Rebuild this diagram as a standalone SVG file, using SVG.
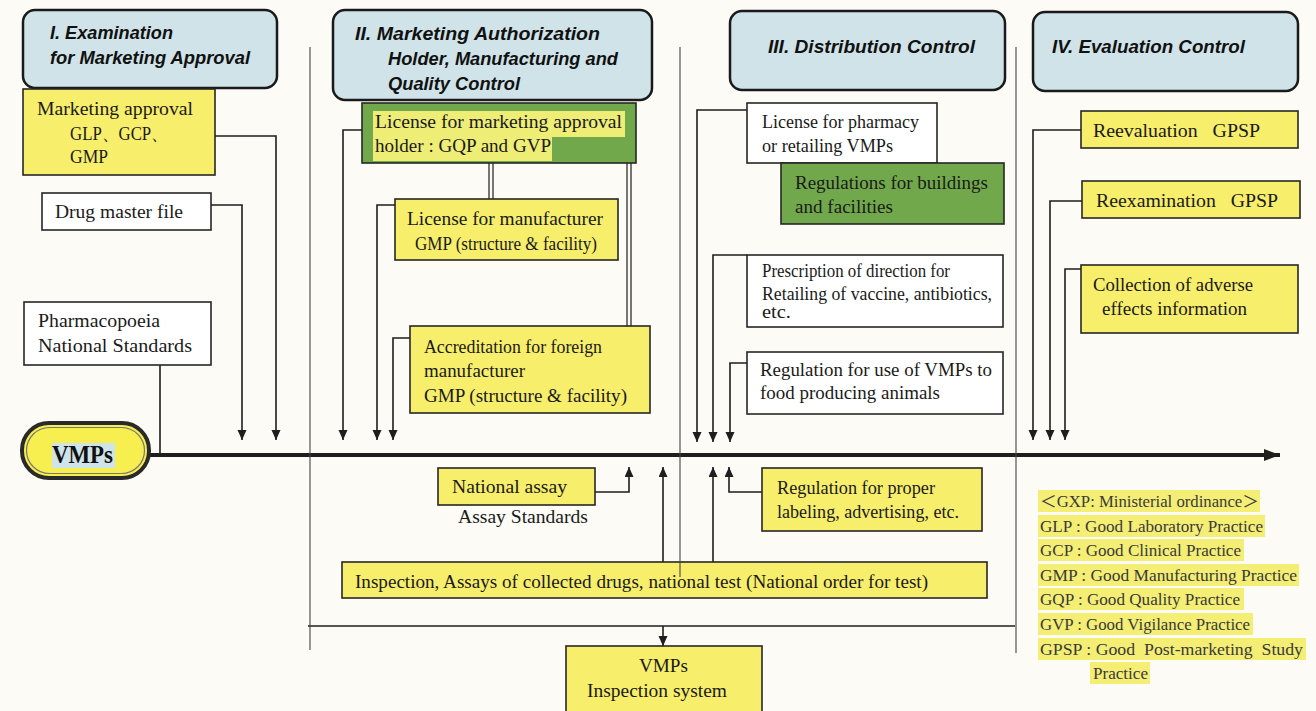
<svg xmlns="http://www.w3.org/2000/svg" width="1316" height="711" viewBox="0 0 1316 711">
  <style>
    .hdr { fill: #cfe3e8; stroke: #1a1a1a; stroke-width: 2.5; }
    .htxt { font-family: "Liberation Sans", Arial, sans-serif; font-weight: bold; font-style: italic; font-size: 18px; fill: #111; }
    .yel { fill: #f7ee6b; stroke: #262626; stroke-width: 1.6; }
    .grn { fill: #71a84b; stroke: #262626; stroke-width: 1.6; }
    .wht { fill: #ffffff; stroke: #262626; stroke-width: 1.6; }
    .t { font-family: "Liberation Serif", "Times New Roman", serif; font-size: 18px; fill: #1a1a1a; white-space: pre; }
    .lg { font-family: "Liberation Serif", "Times New Roman", "Noto Sans CJK JP", serif; font-size: 16px; fill: #3a3a3a; white-space: pre; }
    .hl { fill: #f4ee74; }
    .hlg { fill: #eeed76; }
    .ln { fill: none; stroke: #1e1e1e; stroke-width: 1.6; }
    .arr { fill: none; stroke: #1e1e1e; stroke-width: 1.6; marker-end: url(#ah); }
    .lane { fill: none; stroke: #444; stroke-width: 1.1; }
  </style>
  <defs>
    <marker id="ah" markerUnits="userSpaceOnUse" markerWidth="10" markerHeight="12" refX="10" refY="4.5" orient="auto">
      <path d="M0,0 L10,4.5 L0,9 z" fill="#1e1e1e"/>
    </marker>
    <marker id="ahBig" markerUnits="userSpaceOnUse" markerWidth="16" markerHeight="14" refX="16" refY="6" orient="auto">
      <path d="M0,0 L16,6 L0,12 z" fill="#1e1e1e"/>
    </marker>
  </defs>

  <rect x="0" y="0" width="1316" height="711" fill="#fcfbf6"/>

  <!-- connectors -->
  <g id="connectors">
    <path d="M150,455 H1280" fill="none" stroke="#1e1e1e" stroke-width="4" marker-end="url(#ahBig)"/>
    <!-- I -->
    <path class="arr" d="M215,136 H276 V440"/>
    <path class="arr" d="M211,205 H242 V440"/>
    <path class="ln" d="M160,365 V453"/>
    <!-- II -->
    <path class="arr" d="M362,130 H343 V440"/>
    <path class="arr" d="M395,205 H377 V440"/>
    <path class="arr" d="M410,338 H393 V440"/>
    <path class="ln" d="M489,163 V199 M493,163 V199" style="stroke-width:1.2"/>
    <path class="ln" d="M627,163 V326 M631,163 V326" style="stroke-width:1.2"/>
    <!-- III -->
    <path class="arr" d="M747,110 H697 V442"/>
    <path class="arr" d="M747,255 H713 V442"/>
    <path class="arr" d="M747,363 H730 V442"/>
    <!-- IV -->
    <path class="arr" d="M1081,130 H1033 V440"/>
    <path class="arr" d="M1082,201 H1050 V440"/>
    <path class="arr" d="M1081,269 H1065 V440"/>
    <!-- below the main line -->
    <path class="arr" d="M595,492 H629 V467"/>
    <path class="arr" d="M663,562 V467"/>
    <path class="arr" d="M713,562 V467"/>
    <path class="arr" d="M762,492 H729 V467"/>
    <path class="ln" d="M308,626 H1015"/>
    <path class="arr" d="M663,626 V646"/>
  </g>

  <!-- section headers -->
  <g id="hdr-1">
    <rect class="hdr" x="23" y="10" width="254" height="78" rx="12"/>
    <text class="htxt" x="50" y="39" textLength="123" lengthAdjust="spacingAndGlyphs">I. Examination</text>
    <text class="htxt" x="50" y="64" textLength="200" lengthAdjust="spacingAndGlyphs">for Marketing Approval</text>
  </g>
  <g id="hdr-2">
    <rect class="hdr" x="333" y="10" width="319" height="90" rx="12"/>
    <text class="htxt" x="355" y="40" textLength="245" lengthAdjust="spacingAndGlyphs">II. Marketing Authorization</text>
    <text class="htxt" x="388" y="65" textLength="230" lengthAdjust="spacingAndGlyphs">Holder, Manufacturing and</text>
    <text class="htxt" x="388" y="90" textLength="132" lengthAdjust="spacingAndGlyphs">Quality Control</text>
  </g>
  <g id="hdr-3">
    <rect class="hdr" x="730" y="11" width="275" height="79" rx="12"/>
    <text class="htxt" x="768" y="53" textLength="207" lengthAdjust="spacingAndGlyphs">III. Distribution Control</text>
  </g>
  <g id="hdr-4">
    <rect class="hdr" x="1033" y="12" width="265" height="79" rx="12"/>
    <text class="htxt" x="1052" y="53" textLength="193" lengthAdjust="spacingAndGlyphs">IV. Evaluation Control</text>
  </g>

  <!-- I. Examination for marketing approval -->
  <g id="marketing-approval">
    <rect class="yel" x="23" y="89" width="192" height="86"/>
    <text class="t" x="37" y="115" textLength="156" lengthAdjust="spacingAndGlyphs">Marketing approval</text>
    <text class="t" x="70" y="140" font-family="Liberation Serif, Noto Sans CJK JP, serif" textLength="98" lengthAdjust="spacingAndGlyphs">GLP、GCP、</text>
    <text class="t" x="70" y="163" textLength="38" lengthAdjust="spacingAndGlyphs">GMP</text>
  </g>
  <g id="drug-master-file">
    <rect class="wht" x="42" y="193" width="169" height="37"/>
    <text class="t" x="55" y="218" textLength="128" lengthAdjust="spacingAndGlyphs">Drug master file</text>
  </g>
  <g id="pharmacopoeia">
    <rect class="wht" x="24" y="302" width="187" height="63"/>
    <text class="t" x="38" y="327" textLength="122" lengthAdjust="spacingAndGlyphs">Pharmacopoeia</text>
    <text class="t" x="38" y="352" textLength="154" lengthAdjust="spacingAndGlyphs">National Standards</text>
  </g>
  <g id="vmps">
    <rect x="22" y="423" width="127" height="55" rx="27" fill="#f7ee4f" stroke="#2a2a2a" stroke-width="4"/>
    <rect x="26.5" y="427.5" width="118" height="46" rx="23" fill="none" stroke="#777" stroke-width="1.2"/>
    <rect x="52" y="443" width="63" height="25" fill="#cfe3ea"/>
    <text x="52" y="463" font-family="Liberation Serif, serif" font-weight="bold" font-size="25" fill="#111" textLength="61" lengthAdjust="spacingAndGlyphs">VMPs</text>
  </g>

  <!-- II. Marketing authorization holder -->
  <g id="license-mah">
    <rect class="grn" x="362" y="103" width="274" height="60"/>
    <rect class="hlg" x="373" y="111" width="252" height="26"/>
    <rect class="hlg" x="373" y="137" width="179" height="24"/>
    <text class="t" x="375" y="128" textLength="247" lengthAdjust="spacingAndGlyphs">License for marketing approval</text>
    <text class="t" x="375" y="152" textLength="176" lengthAdjust="spacingAndGlyphs">holder : GQP and GVP</text>
  </g>
  <g id="license-manufacturer">
    <rect class="yel" x="395" y="199" width="223" height="61"/>
    <text class="t" x="407" y="225" textLength="196" lengthAdjust="spacingAndGlyphs">License for manufacturer</text>
    <text class="t" x="415" y="250" font-size="16.5" textLength="182" lengthAdjust="spacingAndGlyphs">GMP (structure &amp; facility)</text>
  </g>
  <g id="foreign-manufacturer">
    <rect class="yel" x="410" y="326" width="240" height="87"/>
    <text class="t" x="424" y="353" textLength="178" lengthAdjust="spacingAndGlyphs">Accreditation for foreign</text>
    <text class="t" x="424" y="377" textLength="101" lengthAdjust="spacingAndGlyphs">manufacturer</text>
    <text class="t" x="424" y="402" textLength="203" lengthAdjust="spacingAndGlyphs">GMP (structure &amp; facility)</text>
  </g>

  <!-- III. Distribution control -->
  <g id="license-pharmacy">
    <rect class="wht" x="747" y="103" width="190" height="60"/>
    <text class="t" x="762" y="128" textLength="157" lengthAdjust="spacingAndGlyphs">License for pharmacy</text>
    <text class="t" x="762" y="152" textLength="131" lengthAdjust="spacingAndGlyphs">or retailing VMPs</text>
  </g>
  <g id="buildings">
    <rect class="grn" x="781" y="163" width="223" height="61"/>
    <text class="t" x="795" y="189" textLength="193" lengthAdjust="spacingAndGlyphs">Regulations for buildings</text>
    <text class="t" x="795" y="213" textLength="98" lengthAdjust="spacingAndGlyphs">and facilities</text>
  </g>
  <g id="prescription">
    <rect class="wht" x="747" y="255" width="256" height="72"/>
    <text class="t" x="762" y="277" font-size="16.5" textLength="188" lengthAdjust="spacingAndGlyphs">Prescription of direction for</text>
    <text class="t" x="762" y="300" font-size="16.5" textLength="230" lengthAdjust="spacingAndGlyphs">Retailing of vaccine, antibiotics,</text>
    <text class="t" x="762" y="318" font-size="16.5" textLength="29" lengthAdjust="spacingAndGlyphs">etc.</text>
  </g>
  <g id="food-animals">
    <rect class="wht" x="747" y="352" width="256" height="62"/>
    <text class="t" x="760" y="376" textLength="232" lengthAdjust="spacingAndGlyphs">Regulation for use of VMPs to</text>
    <text class="t" x="760" y="399" textLength="180" lengthAdjust="spacingAndGlyphs">food producing animals</text>
  </g>

  <!-- IV. Evaluation control -->
  <g id="reevaluation">
    <rect class="yel" x="1081" y="111" width="217" height="37"/>
    <text class="t" x="1093" y="137" textLength="167" lengthAdjust="spacingAndGlyphs">Reevaluation   GPSP</text>
  </g>
  <g id="reexamination">
    <rect class="yel" x="1082" y="181" width="218" height="37"/>
    <text class="t" x="1096" y="207" textLength="182" lengthAdjust="spacingAndGlyphs">Reexamination   GPSP</text>
  </g>
  <g id="adverse-effects">
    <rect class="yel" x="1081" y="265" width="217" height="68"/>
    <text class="t" x="1093" y="291" textLength="160" lengthAdjust="spacingAndGlyphs">Collection of adverse</text>
    <text class="t" x="1102" y="315" textLength="145" lengthAdjust="spacingAndGlyphs">effects information</text>
  </g>

  <!-- below the main flow -->
  <g id="national-assay">
    <rect class="yel" x="438" y="468" width="157" height="37"/>
    <text class="t" x="452" y="493" textLength="115" lengthAdjust="spacingAndGlyphs">National assay</text>
    <text class="t" x="458" y="523" font-size="17" textLength="130" lengthAdjust="spacingAndGlyphs">Assay Standards</text>
  </g>
  <g id="labeling">
    <rect class="yel" x="762" y="468" width="220" height="63"/>
    <text class="t" x="777" y="494" textLength="158" lengthAdjust="spacingAndGlyphs">Regulation for proper</text>
    <text class="t" x="777" y="518" textLength="182" lengthAdjust="spacingAndGlyphs">labeling, advertising, etc.</text>
  </g>
  <g id="inspection">
    <rect class="yel" x="342" y="562" width="645" height="36"/>
    <text class="t" x="355" y="588" textLength="573" lengthAdjust="spacingAndGlyphs">Inspection, Assays of collected drugs, national test (National order for test)</text>
  </g>
  <g id="inspection-system">
    <rect class="yel" x="566" y="646" width="196" height="70"/>
    <text class="t" x="639" y="672" textLength="49" lengthAdjust="spacingAndGlyphs">VMPs</text>
    <text class="t" x="587" y="697" textLength="140" lengthAdjust="spacingAndGlyphs">Inspection system</text>
  </g>

  <!-- lane dividers -->
  <g id="lanes">
    <path class="lane" d="M310,47 V650"/>
    <path class="lane" d="M680,47 V577"/>
    <path class="lane" d="M1016,47 V653"/>
  </g>

  <!-- GXP legend -->
  <g id="legend">
    <rect class="hl" x="1038" y="490" width="222" height="22"/>
    <rect class="hl" x="1038" y="515" width="227" height="22"/>
    <rect class="hl" x="1038" y="539" width="206" height="22"/>
    <rect class="hl" x="1038" y="564" width="261" height="22"/>
    <rect class="hl" x="1038" y="588" width="206" height="22"/>
    <rect class="hl" x="1038" y="613" width="215" height="22"/>
    <rect class="hl" x="1038" y="638" width="268" height="22"/>
    <rect class="hl" x="1090" y="662" width="60" height="22"/>
    <text class="lg" x="1040" y="507" textLength="219" lengthAdjust="spacingAndGlyphs">＜GXP: Ministerial ordinance＞</text>
    <text class="lg" x="1040" y="532" textLength="223" lengthAdjust="spacingAndGlyphs">GLP : Good Laboratory Practice</text>
    <text class="lg" x="1040" y="556" textLength="201" lengthAdjust="spacingAndGlyphs">GCP : Good Clinical Practice</text>
    <text class="lg" x="1040" y="581" textLength="257" lengthAdjust="spacingAndGlyphs">GMP : Good Manufacturing Practice</text>
    <text class="lg" x="1040" y="605" textLength="200" lengthAdjust="spacingAndGlyphs">GQP : Good Quality Practice</text>
    <text class="lg" x="1040" y="630" textLength="210" lengthAdjust="spacingAndGlyphs">GVP : Good Vigilance Practice</text>
    <text class="lg" x="1040" y="655" textLength="263" lengthAdjust="spacingAndGlyphs">GPSP : Good  Post-marketing  Study</text>
    <text class="lg" x="1093" y="679" textLength="55" lengthAdjust="spacingAndGlyphs">Practice</text>
  </g>
</svg>
